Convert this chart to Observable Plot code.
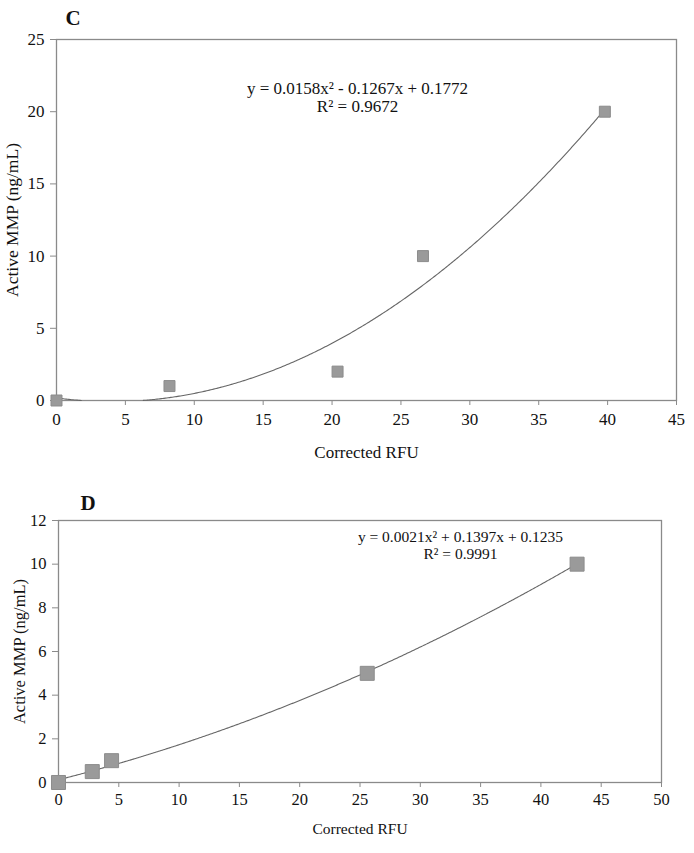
<!DOCTYPE html>
<html>
<head>
<meta charset="utf-8">
<script src="https://cdn.jsdelivr.net/npm/d3@7"></script>
<script src="https://cdn.jsdelivr.net/npm/@observablehq/plot@0.6"></script>
<style>
  body { margin: 0; background: #fff; }
  #root > svg, #root > figure { display: block; margin: 0; }
  #root svg, #root svg text { font-family: 'Liberation Serif', 'DejaVu Serif', serif !important; }
</style>
</head>
<body>
<div id="root"></div>
<script>
// Panel C data
const cRFU = [0, 8.2, 20.4, 26.6, 39.8];
const cMMP = [0, 1, 2, 10, 20];
const cCoef = [0.0158, -0.1267, 0.1772];
const cEq = ["y = 0.0158x² - 0.1267x + 0.1772", "R² = 0.9672"];
const cXTicks = [0, 5, 10, 15, 20, 25, 30, 35, 40, 45];
const cYTicks = [0, 5, 10, 15, 20, 25];

// Panel D data
const dRFU = [0, 2.8, 4.4, 25.6, 43.0];
const dMMP = [0, 0.5, 1, 5, 10];
const dCoef = [0.0021, 0.1397, 0.1235];
const dEq = ["y = 0.0021x² + 0.1397x + 0.1235", "R² = 0.9991"];
const dXTicks = [0, 5, 10, 15, 20, 25, 30, 35, 40, 45, 50];
const dYTicks = [0, 2, 4, 6, 8, 10, 12];

const xTitle = "Corrected RFU";
const yTitle = "Active MMP (ng/mL)";

const FONT = "'Liberation Serif', 'DejaVu Serif', serif";
const AX = "#8a8a8a";

function trend(coef, xs, step) {
  const [a, b, c] = coef;
  const x0 = d3.min(xs), x1 = d3.max(xs);
  return d3.range(x0, x1 + step / 2, step).map(x => {
    const y = a * x * x + b * x + c;
    return {x, y: y < 0 ? NaN : y};
  });
}

function panel(o) {
  const pts = o.xs.map((x, i) => ({x, y: o.ys[i]}));
  return Plot.plot({
    width: 694,
    height: o.height,
    marginLeft: o.ml, marginRight: o.mr, marginTop: o.mt, marginBottom: o.mb,
    style: {fontFamily: FONT, fontSize: o.fs + "px", color: "#222", background: "#fff"},
    x: {domain: o.xDomain, ticks: o.xTicks, label: null},
    y: {domain: o.yDomain, ticks: o.yTicks, label: null},
    marks: [
      Plot.frame({stroke: AX, strokeWidth: 1.3}),
      Plot.axisX({ticks: o.xTicks, tickSize: 5, stroke: AX, tickPadding: o.xtp, fontSize: o.fs, fontFamily: FONT, fill: "#111", label: null}),
      Plot.axisY({ticks: o.yTicks, tickSize: 6, stroke: AX, tickPadding: 6, fontSize: o.fs, fontFamily: FONT, fill: "#111", label: null}),
      Plot.text([xTitle], {frameAnchor: "bottom", dy: o.xly, text: d => d, lineAnchor: "middle", fontSize: o.xlfs, fontFamily: FONT, fill: "#111"}),
      Plot.text([yTitle], {frameAnchor: "left", dx: o.ylx, text: d => d, rotate: -90, textAnchor: "middle", lineAnchor: "middle", fontSize: o.ylfs, fontFamily: FONT, fill: "#111"}),
      Plot.line(trend(o.coef, o.xs, 0.1), {x: "x", y: "y", stroke: "#666", strokeWidth: 1.1, curve: "linear"}),
      Plot.dot(pts, {x: "x", y: "y", symbol: "square", r: o.r, fill: "#9a9a9a", stroke: "#8c8c8c", strokeWidth: 1}),
      Plot.text([o.eq[0]], {frameAnchor: "top-left", dx: o.eqx, dy: o.eqy, text: d => d, textAnchor: "middle", lineAnchor: "middle", fontSize: o.eqfs, fontFamily: FONT, fill: "#111"}),
      Plot.text([o.eq[1]], {frameAnchor: "top-left", dx: o.eqx, dy: o.eqy + o.eqgap, text: d => d, textAnchor: "middle", lineAnchor: "middle", fontSize: o.eqfs, fontFamily: FONT, fill: "#111"}),
      Plot.text([o.letter], {frameAnchor: "top-left", dx: o.lx, dy: o.ly, text: d => d, textAnchor: "start", lineAnchor: "middle", fontSize: o.lfs, fontFamily: FONT, fontWeight: "bold", fill: "#111"})
    ]
  });
}

const root = document.getElementById("root");
root.appendChild(panel({
  xs: cRFU, ys: cMMP, coef: cCoef, eq: cEq, letter: "C",
  height: 465, ml: 56, mr: 18, mt: 39, mb: 65,
  xDomain: [0, 45], yDomain: [0, 25], xTicks: cXTicks, yTicks: cYTicks,
  fs: 17, xtp: 7, xly: 52, xlfs: 17, ylx: -44, ylfs: 17.5, r: 6.2,
  eqx: 301, eqy: 49, eqgap: 18, eqfs: 17,
  lx: 9, ly: -21, lfs: 21
}));
root.appendChild(panel({
  xs: dRFU, ys: dMMP, coef: dCoef, eq: dEq, letter: "D",
  height: 388, ml: 58, mr: 33, mt: 55, mb: 71,
  xDomain: [0, 50], yDomain: [0, 12], xTicks: dXTicks, yTicks: dYTicks,
  fs: 16.5, xtp: 6, xly: 47, xlfs: 15.5, ylx: -39, ylfs: 16.5, r: 7.9,
  eqx: 402, eqy: 17, eqgap: 17, eqfs: 15.5,
  lx: 22, ly: -17, lfs: 21
}));
</script>
</body>
</html>
